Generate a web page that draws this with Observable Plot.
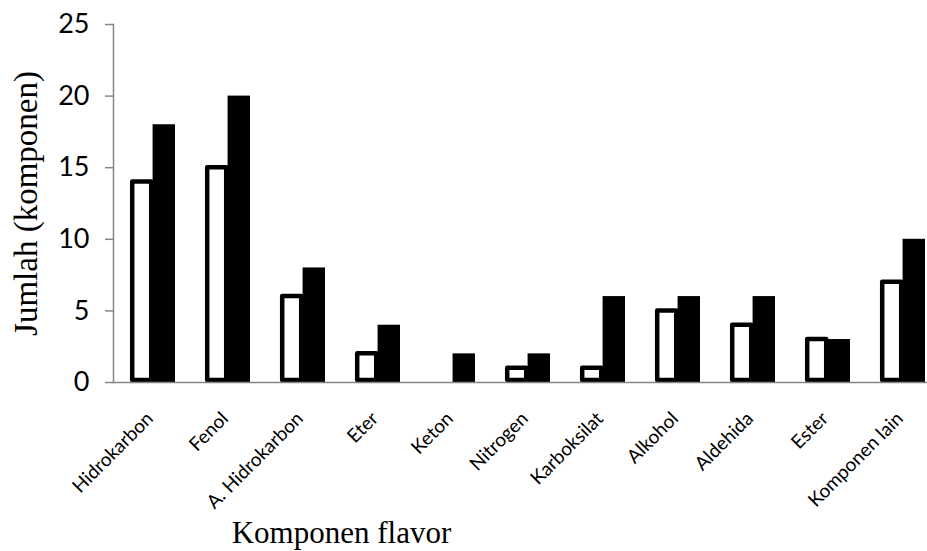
<!DOCTYPE html>
<html>
<head>
<meta charset="utf-8">
<script src="https://cdn.jsdelivr.net/npm/d3@7"></script>
<script src="https://cdn.jsdelivr.net/npm/@observablehq/plot@0.6"></script>
<style>
  html, body { margin: 0; padding: 0; background: white; overflow: hidden; }
</style>
</head>
<body>
<div id="chart"></div>
<script>
const categories = ["Hidrokarbon", "Fenol", "A. Hidrokarbon", "Eter", "Keton", "Nitrogen", "Karboksilat", "Alkohol", "Aldehida", "Ester", "Komponen lain"];
const seriesWhite = [14, 15, 6, 2, 0, 1, 1, 5, 4, 3, 7];
const seriesBlack = [18, 20, 8, 4, 2, 2, 6, 6, 6, 3, 10];
const yTicks = [0, 5, 10, 15, 20, 25];

const table = categories.map((c, i) => ({cat: c, a: seriesWhite[i], b: seriesBlack[i]}));

const xRange = [113, 941];
const paddingInner = 0.4, paddingOuter = 0.2;
const step = (xRange[1] - xRange[0]) / (categories.length - paddingInner + 2 * paddingOuter);
const half = step * (1 - paddingInner) / 2;
const axisGray = "#868686";

const chart = Plot.plot({
  width: 927,
  height: 551,
  marginTop: 24,
  marginBottom: 169,
  marginLeft: 113,
  marginRight: 0,
  style: {fontFamily: "Lato", background: "white", color: "black"},
  x: {domain: categories, range: xRange, paddingInner, paddingOuter},
  y: {domain: [0, 25], ticks: yTicks},
  marks: [
    Plot.barY(table, {
      x: "cat", y: "a", fill: "white", stroke: "black", strokeWidth: 4.5,
      strokeLinejoin: "round", insetLeft: 2.2, insetRight: half + 1.2, insetBottom: 2,
      filter: d => d.a > 0
    }),
    Plot.barY(table, {x: "cat", y: "b", fill: "black", insetLeft: half}),
    Plot.frame({anchor: "left", stroke: axisGray, strokeWidth: 1.5}),
    Plot.frame({anchor: "bottom", stroke: axisGray, strokeWidth: 1.5}),
    Plot.axisY({
      ticks: yTicks, tickSize: 8, tickPadding: 16, fontSize: 27,
      stroke: axisGray, strokeWidth: 1.5, fill: "black", label: null
    }),
    Plot.axisX({
      tickSize: 0, tickRotate: -45, tickPadding: 33, dx: -3, fontSize: 19,
      fill: "black", label: null
    }),
    Plot.text(["Jumlah (komponen)"], {
      frameAnchor: "left", rotate: -90, dx: -87, fontSize: 33,
      fontFamily: "Liberation Serif", fill: "black", textAnchor: "middle"
    }),
    Plot.text(["Komponen flavor"], {
      frameAnchor: "bottom-left", dx: 228, dy: 160, fontSize: 31,
      fontFamily: "Liberation Serif", fill: "black", textAnchor: "middle"
    })
  ]
});

document.getElementById("chart").appendChild(chart);
</script>
</body>
</html>
